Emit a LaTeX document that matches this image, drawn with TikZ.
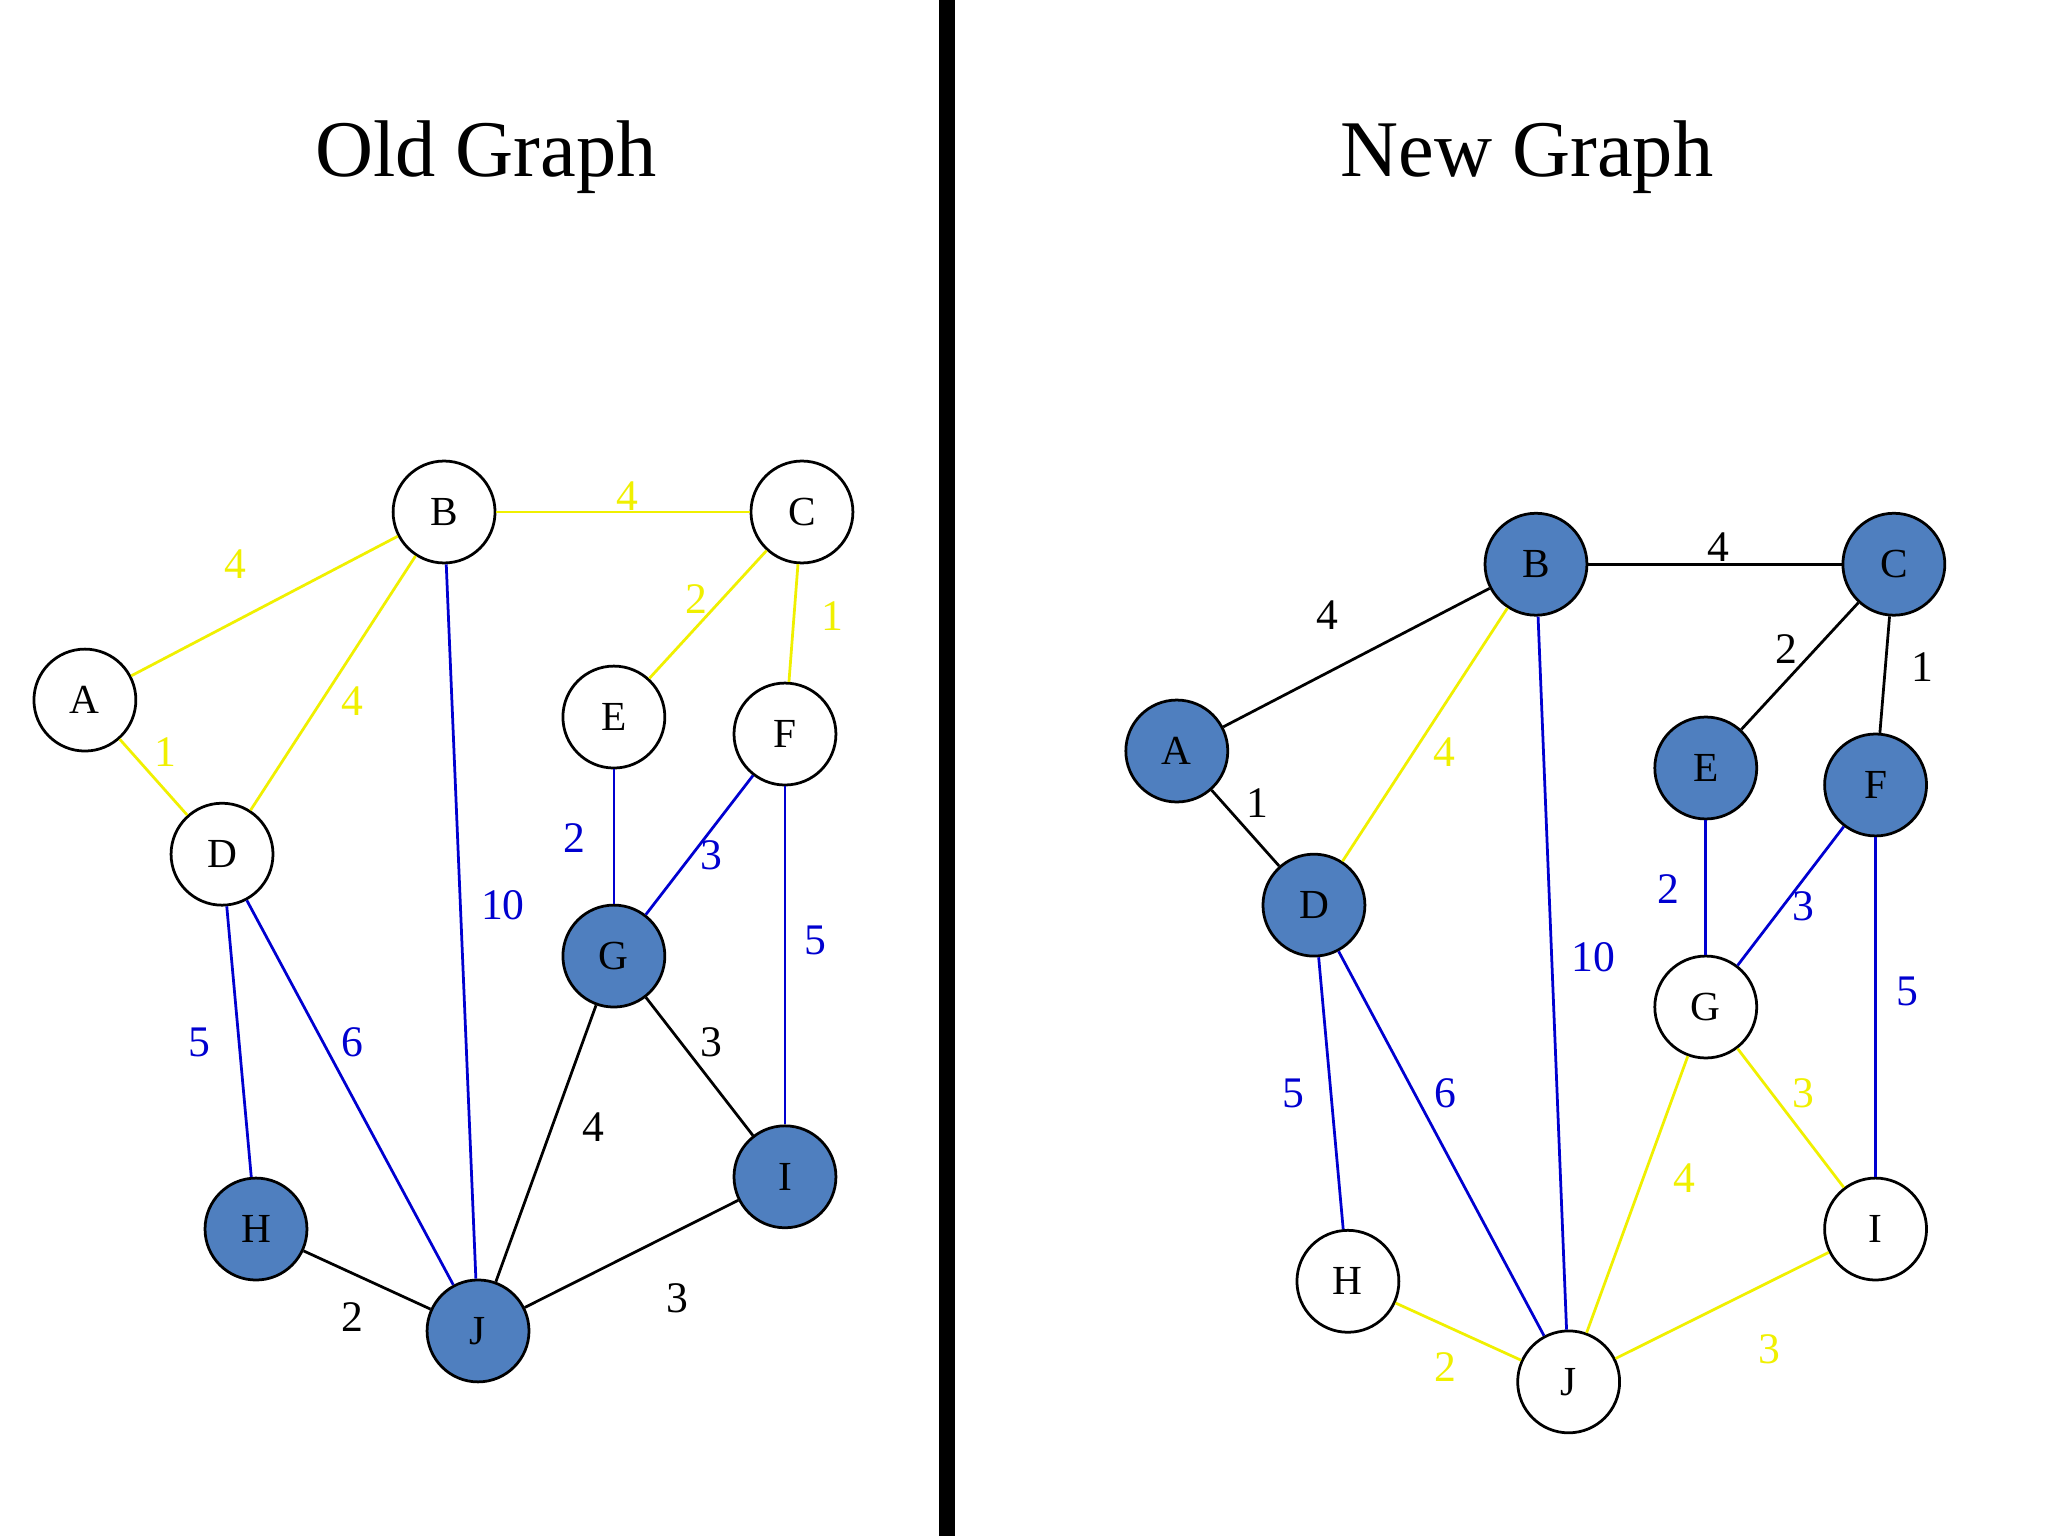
\documentclass[tikz,border=0pt]{standalone}
\usepackage{fontspec}
\setmainfont{Liberation Serif}
\definecolor{nb}{HTML}{4F7FBF}
\definecolor{yl}{HTML}{F0F000}
\definecolor{bl}{HTML}{0000D0}
\begin{document}
\begin{tikzpicture}[x=0.01cm,y=-0.01cm,
 v/.style={circle,draw=black,line width=0.6pt,minimum size=0.78cm,inner sep=0pt,font=\fontsize{9}{10}\selectfont,fill=white},
 f/.style={v,fill=nb},
 e/.style={line width=0.6pt},
 lb/.style={font=\fontsize{9.5}{10}\selectfont,inner sep=0pt},
 Y/.style={e,draw=yl},Bl/.style={e,draw=bl},K/.style={e,draw=black}]
\useasboundingbox (0,0) rectangle (1568,1176);
\fill[white] (0,0) rectangle (1568,1176);
\fill[black] (719,0) rectangle (731,1176);
\node[font=\fontsize{17.5}{20}\selectfont] (t1) at (372,120) {Old Graph};
\node[font=\fontsize{17.5}{20}\selectfont] (t2) at (1169,120) {New Graph};
% old
\node[v] (A) at (65,536) {A};
\node[v] (B) at (340,392) {B};
\node[v] (C) at (614,392) {C};
\node[v] (D) at (170,654) {D};
\node[v] (E) at (470,549) {E};
\node[v] (F) at (601,562) {F};
\node[f] (G) at (470,732) {G};
\node[f] (H) at (196,941) {H};
\node[f] (I) at (601,901) {I};
\node[f] (J) at (366,1019) {J};
\draw[Y] (A)--(B); \node[lb,yl] at (180,432) {4};
\draw[Y] (A)--(D); \node[lb,yl] at (127,576) {1};
\draw[Y] (B)--(C); \node[lb,yl] at (480,380) {4};
\draw[Y] (B)--(D); \node[lb,yl] at (270,537) {4};
\draw[Bl] (B)--(J); \node[lb,bl] at (385,693) {10};
\draw[Y] (C)--(E); \node[lb,yl] at (533,459) {2};
\draw[Y] (C)--(F); \node[lb,yl] at (637,472) {1};
\draw[Bl] (E)--(G); \node[lb,bl] at (440,642) {2};
\draw[Bl] (F)--(G); \node[lb,bl] at (545,655) {3};
\draw[Bl] (F)--(I); \node[lb,bl] at (624,720) {5};
\draw[Bl] (D)--(H); \node[lb,bl] at (153,798) {5};
\draw[Bl] (D)--(J); \node[lb,bl] at (270,798) {6};
\draw[K] (G)--(I); \node[lb] at (545,798) {3};
\draw[K] (G)--(J); \node[lb] at (454,863) {4};
\draw[K] (H)--(J); \node[lb] at (270,1008) {2};
\draw[K] (J)--(I); \node[lb] at (519,994) {3};
% new
\node[f] (A2) at (901,575) {A};
\node[f] (B2) at (1176,432) {B};
\node[f] (C2) at (1450,432) {C};
\node[f] (D2) at (1006,693) {D};
\node[f] (E2) at (1306,588) {E};
\node[f] (F2) at (1436,601) {F};
\node[v] (G2) at (1306,771) {G};
\node[v] (H2) at (1032,981) {H};
\node[v] (I2) at (1436,941) {I};
\node[v] (J2) at (1201,1058) {J};
\draw[K] (A2)--(B2); \node[lb] at (1016,471) {4};
\draw[K] (A2)--(D2); \node[lb] at (963,615) {1};
\draw[K] (B2)--(C2); \node[lb] at (1316,419) {4};
\draw[Y] (B2)--(D2); \node[lb,yl] at (1106,576) {4};
\draw[Bl] (B2)--(J2); \node[lb,bl] at (1220,733) {10};
\draw[K] (C2)--(E2); \node[lb] at (1368,497) {2};
\draw[K] (C2)--(F2); \node[lb] at (1472,511) {1};
\draw[Bl] (E2)--(G2); \node[lb,bl] at (1277,681) {2};
\draw[Bl] (F2)--(G2); \node[lb,bl] at (1381,694) {3};
\draw[Bl] (F2)--(I2); \node[lb,bl] at (1460,759) {5};
\draw[Bl] (D2)--(H2); \node[lb,bl] at (990,837) {5};
\draw[Bl] (D2)--(J2); \node[lb,bl] at (1107,837) {6};
\draw[Y] (G2)--(I2); \node[lb,yl] at (1381,837) {3};
\draw[Y] (G2)--(J2); \node[lb,yl] at (1290,902) {4};
\draw[Y] (H2)--(J2); \node[lb,yl] at (1107,1047) {2};
\draw[Y] (J2)--(I2); \node[lb,yl] at (1355,1033) {3};
\end{tikzpicture}
\end{document}
